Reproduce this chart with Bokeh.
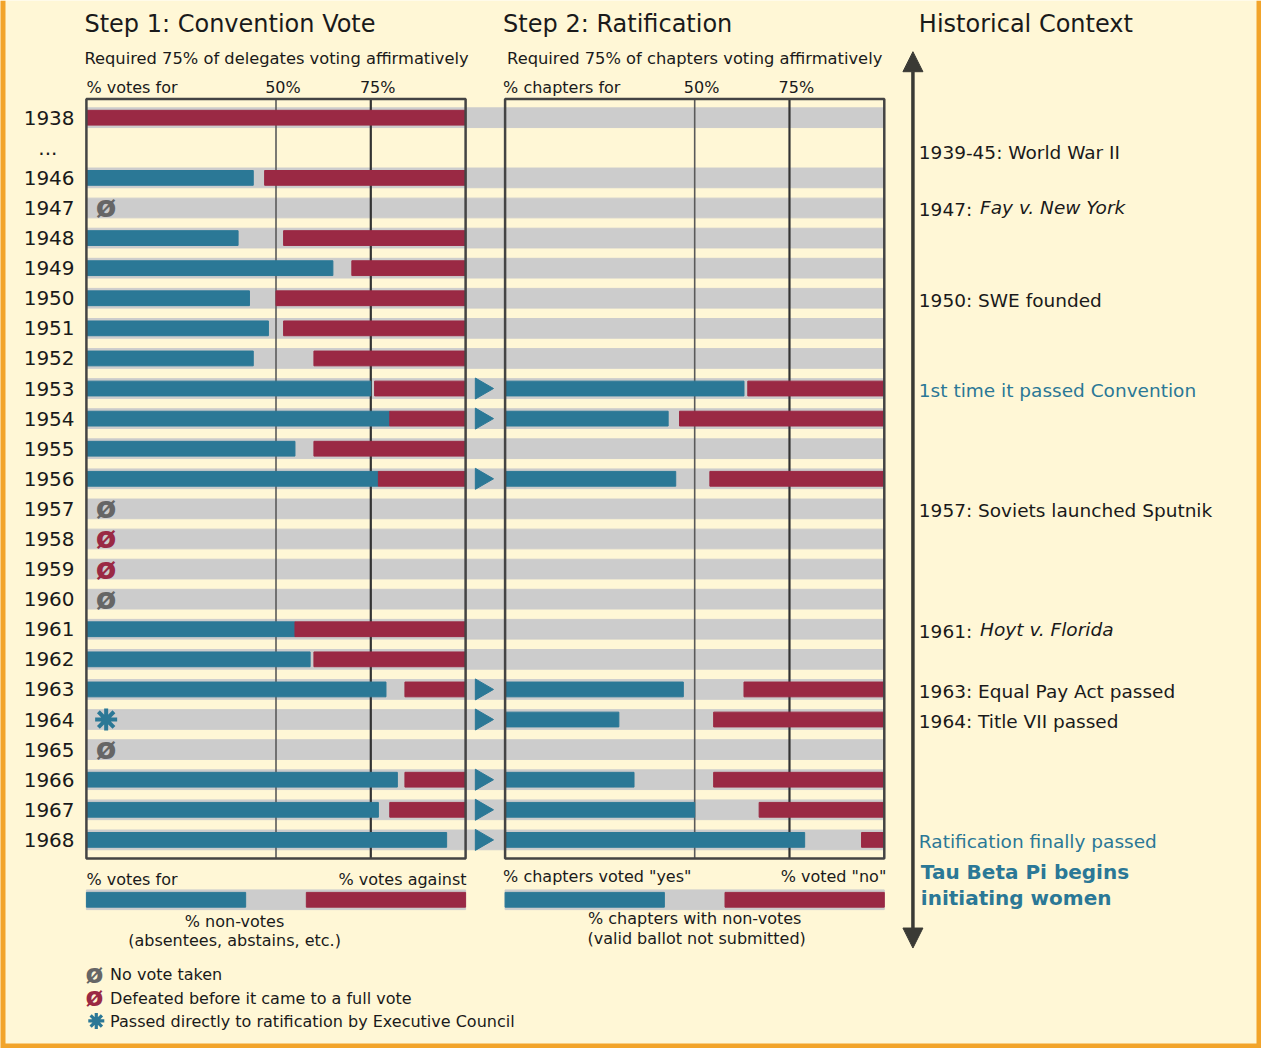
import numpy as np
from bokeh.plotting import figure
from bokeh.models import Range1d, Arrow, NormalHead
from bokeh.core.properties import value
from bokeh.embed import file_html
from bokeh.resources import INLINE

# ---------------- data ----------------
nan = float("nan")
years = [1938, 1946, 1947, 1948, 1949, 1950, 1951, 1952, 1953, 1954, 1955, 1956,
         1957, 1958, 1959, 1960, 1961, 1962, 1963, 1964, 1965, 1966, 1967, 1968]
conv_for = [0, 44, nan, 40, 65, 43, 48, 44, 75, 80, 55, 77,
            nan, nan, nan, nan, 55, 59, 79, nan, nan, 82, 77, 95]
conv_against = [100, 53, nan, 48, 30, 50, 48, 40, 24, 20, 40, 23,
                nan, nan, nan, nan, 45, 40, 16, nan, nan, 16, 20, 0]
rat_years = [1953, 1954, 1956, 1963, 1964, 1966, 1967, 1968]
rat_yes = [63, 43, 45, 47, 30, 34, 50, 79]
rat_no = [36, 54, 46, 37, 45, 45, 33, 6]
no_vote_years = [1947, 1957, 1960, 1965]
defeated_years = [1958, 1959]
exec_council_years = [1964]
threshold_ticks = [50, 75]
tick_labels = ["50%", "75%"]
legend_split = [42, 16, 42]  # for / non-votes / against (legend example)
ctx_years = ["...", 1947, 1950, 1953, 1957, 1961, 1963, 1964, 1968]
ctx_text = ["1939-45: World War II", "1947:", "1950: SWE founded",
            "1st time it passed Convention", "1957: Soviets launched Sputnik",
            "1961:", "1963: Equal Pay Act passed", "1964: Title VII passed",
            "Ratification finally passed"]
ctx_italic = ["", "Fay v. New York", "", "", "", "Hoyt v. Florida", "", "", ""]
ctx_highlight = [False, False, False, True, False, False, False, False, True]

# ---------------- style / layout ----------------
BG = "#fff7d6"
ORANGE = "#f2a42a"
BLUE = "#2b7896"
RED = "#9a2944"
GRAY = "#cccccc"
SYMGRAY = "#666666"
DARK = "#3a3a35"
TXT = "#1a1a1a"
FONT = value("DejaVu Sans")

W, H = 1261, 1048
REF_W, REF_H = 1277, 1064
X0, PX = 87.0, 3.84       # reference pixel of 0 %, pixels per percent
Y0, ROWH = 119.0, 30.55   # reference pixel of first row, row pitch


def X(px):
    return (px - X0) / PX


def Y(py):
    return (py - Y0) / ROWH


def row(yr):
    if yr == "...":
        return 1
    return 0 if yr == 1938 else yr - 1944


P2 = X(511)  # panel 2 origin in percent units
BAND_H = 20 / ROWH
BAR_H = 15 / ROWH

p = figure(width=W, height=H,
           x_range=Range1d(X(0), X(REF_W)),
           y_range=Range1d(Y(REF_H), Y(0)),
           toolbar_location=None, output_backend="svg", min_border=0,
           x_axis_type=None, y_axis_type=None)
p.grid.visible = False
p.background_fill_color = BG
p.border_fill_color = BG
p.outline_line_color = None

# orange frame on left, right and bottom
p.line(x=[X(0), X(0), X(REF_W), X(REF_W)], y=[Y(0), Y(REF_H), Y(REF_H), Y(0)],
       line_color=ORANGE, line_width=10)


def label(px, py, text, size=16, align="left", color=TXT, style="normal"):
    p.text(x=[X(px)], y=[Y(py)], text=[text], text_font=FONT,
           text_font_size=f"{size}px", text_align=align, text_baseline="middle",
           text_color=color, text_font_style=style)


# gray row bands
rows = [row(y) for y in years]
p.hbar(y=rows, left=0, right=P2 + 100, height=BAND_H, color=GRAY)

# threshold lines
box_top, box_bot = Y(100), Y(871)
for t, col, lw in zip(threshold_ticks, ["#5a5a5a", "#333333"], [1.6, 2.2]):
    for off in (0, P2):
        p.segment(x0=[off + t], x1=[off + t], y0=[box_top], y1=[box_bot],
                  line_color=col, line_width=lw)

# convention bars
fy = [row(y) for y, v in zip(years, conv_for) if not np.isnan(v) and v > 0]
fv = [v for v in conv_for if not np.isnan(v) and v > 0]
p.hbar(y=fy, left=0, right=fv, height=BAR_H, color=BLUE)
ay = [row(y) for y, v in zip(years, conv_against) if not np.isnan(v) and v > 0]
av = [100 - v for v in conv_against if not np.isnan(v) and v > 0]
p.hbar(y=ay, left=av, right=100, height=BAR_H, color=RED)

# ratification bars
ry = [row(y) for y in rat_years]
p.hbar(y=ry, left=P2, right=[P2 + v for v in rat_yes], height=BAR_H, color=BLUE)
p.hbar(y=ry, left=[P2 + 100 - v for v in rat_no], right=P2 + 100, height=BAR_H, color=RED)

# passing arrows
p.scatter(x=X(487), y=ry, marker="triangle", angle=-np.pi / 2, size=21,
          fill_color=BLUE, line_color=BLUE)

# panel boxes
p.quad(left=[0, P2], right=[100, P2 + 100], top=box_top, bottom=box_bot,
       fill_color=None, line_color="#444444", line_width=2.5)

# status symbols
p.text(x=X(107), y=[row(y) for y in no_vote_years], text=["ø"] * len(no_vote_years),
       y_offset=-1, text_font=FONT, text_font_style="bold", text_font_size="30px",
       text_align="center", text_baseline="middle", text_color=SYMGRAY)
p.text(x=X(107), y=[row(y) for y in defeated_years], text=["ø"] * len(defeated_years),
       y_offset=-1, text_font=FONT, text_font_style="bold", text_font_size="30px",
       text_align="center", text_baseline="middle", text_color=RED)
p.scatter(x=X(107), y=[row(y) for y in exec_council_years], marker="asterisk",
          size=22, line_width=4, line_color=BLUE)

# year labels
p.text(x=X(75), y=rows, text=[str(y) for y in years], text_font=FONT,
       text_font_size="20px", text_align="right", text_baseline="middle", text_color=TXT)
p.text(x=X(48), y=[row("...")], text=["..."], text_font=FONT,
       text_font_size="20px", text_align="center", text_baseline="middle", text_color=TXT)

# headers
label(85, 24, "Step 1: Convention Vote", 24)
label(509, 24, "Step 2: Ratification", 24)
label(930, 24, "Historical Context", 24)
label(85, 59, "Required 75% of delegates voting affirmatively", 16.3)
label(513, 59, "Required 75% of chapters voting affirmatively", 16.3)
label(87, 88, "% votes for", 16)
label(509, 88, "% chapters for", 16)
for t, tl in zip(threshold_ticks, tick_labels):
    p.text(x=[t + X(94)], y=[Y(88)], text=[tl], text_font=FONT, text_font_size="16px",
           text_align="center", text_baseline="middle", text_color=TXT)
    p.text(x=[P2 + t + X(94)], y=[Y(88)], text=[tl], text_font=FONT, text_font_size="16px",
           text_align="center", text_baseline="middle", text_color=TXT)

# bottom explanatory bars
ly = Y(913)
for off in (0, P2):
    p.hbar(y=[ly], left=off, right=off + 100, height=BAND_H, color=GRAY)
    p.hbar(y=[ly], left=off, right=off + legend_split[0], height=BAR_H, color=BLUE)
    p.hbar(y=[ly], left=off + legend_split[0] + legend_split[1], right=off + 100,
           height=BAR_H, color=RED)
label(87, 892, "% votes for", 16)
label(472, 892, "% votes against", 16, align="right")
label(237, 935, "% non-votes", 16, align="center")
label(237, 954, "(absentees, abstains, etc.)", 16, align="center")
label(509, 889, '% chapters voted "yes"', 16)
label(897, 889, '% voted "no"', 16, align="right")
label(703, 932, "% chapters with non-votes", 16, align="center")
label(705, 952, "(valid ballot not submitted)", 16, align="center")

# symbol legend
label(95, 988, "ø", 26, align="center", color=SYMGRAY, style="bold")
label(111, 989, "No vote taken", 16)
label(95, 1012, "ø", 26, align="center", color=RED, style="bold")
label(111, 1013, "Defeated before it came to a full vote", 16)
p.scatter(x=[X(97)], y=[Y(1036)], marker="asterisk", size=16, line_width=3.2, line_color=BLUE)
label(111, 1037, "Passed directly to ratification by Executive Council", 16)

# historical context timeline
p.add_layout(Arrow(start=NormalHead(size=20, fill_color=DARK, line_color=DARK),
                   end=NormalHead(size=20, fill_color=DARK, line_color=DARK),
                   x_start=X(924), y_start=Y(52), x_end=X(924), y_end=Y(962),
                   line_color=DARK, line_width=3.5))
for yr, t, it, hl in zip(ctx_years, ctx_text, ctx_italic, ctx_highlight):
    yoff = 5 if yr == "..." else 2
    p.text(x=[X(930)], y=[row(yr)], y_offset=yoff, text=[t], text_font=FONT,
           text_font_size="18.5px", text_align="left", text_baseline="middle",
           text_color=BLUE if hl else TXT)
    if it:
        p.text(x=[X(992)], y=[row(yr)], y_offset=yoff - 2, text=[it], text_font=FONT,
               text_font_size="18.5px", text_align="left", text_baseline="middle",
               text_color=TXT, text_font_style="italic")
label(932, 885, "Tau Beta Pi begins", 20, color=BLUE, style="bold")
label(932, 911, "initiating women", 20, color=BLUE, style="bold")

open("out.html", "w").write(file_html(p, INLINE))
